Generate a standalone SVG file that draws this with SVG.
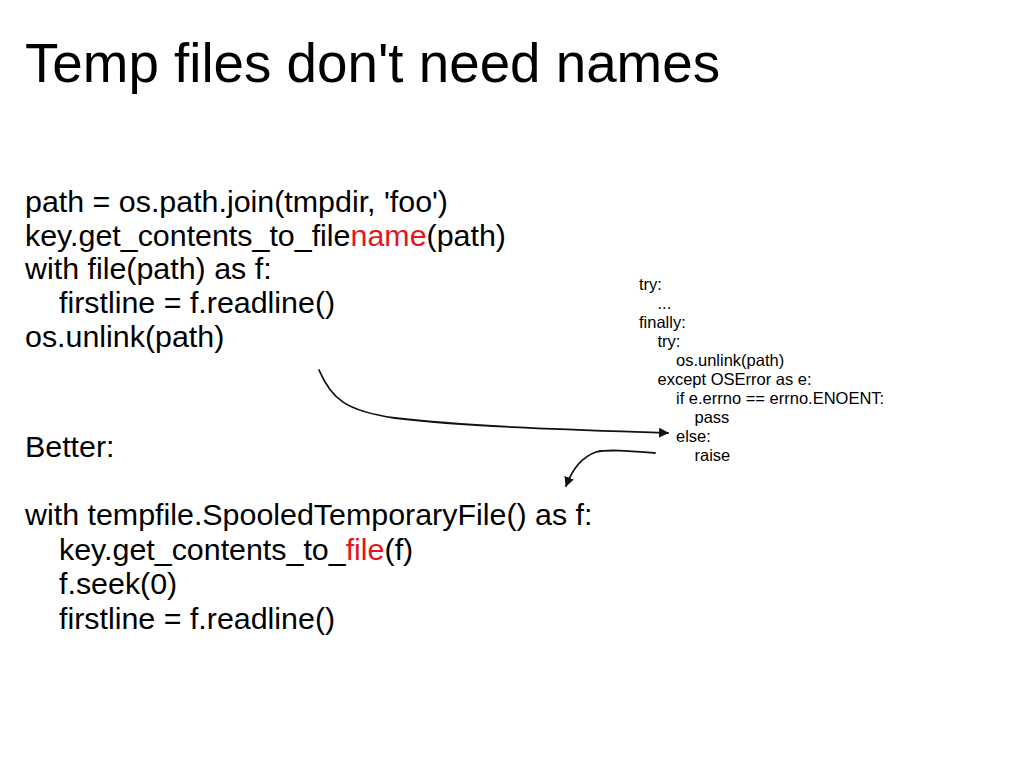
<svg xmlns="http://www.w3.org/2000/svg" width="1023" height="767" viewBox="0 0 1023 767">
<style>
text{font-family:"Liberation Sans",Arial,Helvetica,sans-serif;fill:#000}
.title{font-size:55px}
.body{font-size:30.4px}
.small{font-size:16.5px}
.red{fill:#e3161b}
.conn{fill:none;stroke:#111;stroke-width:1.8;stroke-linecap:round}
</style>
<defs>
<marker id="ah" viewBox="0 0 10 10" refX="9" refY="5" markerWidth="5.5" markerHeight="5.5" orient="auto" markerUnits="strokeWidth">
<path d="M0,0 L10,5 L0,10 z" fill="#111"/>
</marker>
</defs>
<rect width="1023" height="767" fill="#fff"/>
<g id="title">
<text class="title" x="25" y="82" textLength="695" lengthAdjust="spacingAndGlyphs">Temp files don't need names</text>
</g>
<g id="bad-code">
<text class="body" x="25" y="212">path = os.path.join(tmpdir, 'foo')</text>
<text class="body" x="25" y="245.5">key.get_contents_to_file<tspan class="red">name</tspan>(path)</text>
<text class="body" x="25" y="279">with file(path) as f:</text>
<text class="body" x="59" y="313">firstline = f.readline()</text>
<text class="body" x="25" y="347">os.unlink(path)</text>
</g>
<g id="better-code">
<text class="body" x="25" y="457">Better:</text>
<text class="body" x="25" y="525">with tempfile.SpooledTemporaryFile() as f:</text>
<text class="body" x="59" y="559.5">key.get_contents_to_<tspan class="red">file</tspan>(f)</text>
<text class="body" x="59" y="594">f.seek(0)</text>
<text class="body" x="59" y="628.5">firstline = f.readline()</text>
</g>
<g id="try-finally">
<text class="small" x="639" y="290">try:</text>
<text class="small" x="657.5" y="309">...</text>
<text class="small" x="639" y="328">finally:</text>
<text class="small" x="657.5" y="347">try:</text>
<text class="small" x="676" y="366">os.unlink(path)</text>
<text class="small" x="657.5" y="385">except OSError as e:</text>
<text class="small" x="676" y="404">if e.errno == errno.ENOENT:</text>
<text class="small" x="694.5" y="423">pass</text>
<text class="small" x="676" y="442">else:</text>
<text class="small" x="694.5" y="461">raise</text>
</g>
<g id="connectors">
<path class="conn" d="M319,370 C331,398 345,411 395,418 C470,427 580,430 668,433" marker-end="url(#ah)"/>
<path class="conn" d="M655,453 C630,451 608,449 596,452 C582,457 572,470 566,486" marker-end="url(#ah)"/>
</g>
</svg>
